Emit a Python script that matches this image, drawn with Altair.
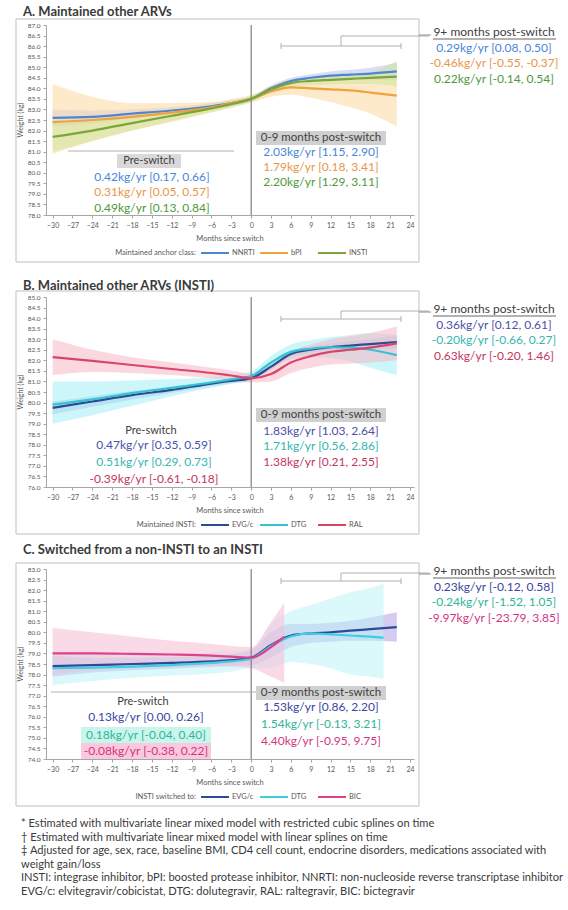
import altair as alt
import pandas as pd

FONT = "Lato"
W = 368
H = 190

X_TICKS = [-30, -27, -24, -21, -18, -15, -12, -9, -6, -3, 0, 3, 6, 9, 12, 15, 18, 21, 24]

# ---------------- Panel A: maintained other ARVs ----------------
A_TITLE = "A. Maintained other ARVs"
A_NAMES = ["NNRTI", "bPI", "INSTI"]
A_Y_TICKS = [78.0, 78.5, 79.0, 79.5, 80.0, 80.5, 81.0, 81.5, 82.0, 82.5,
             83.0, 83.5, 84.0, 84.5, 85.0, 85.5, 86.0, 86.5, 87.0]
A_MONTHS = [-30, -24, -18, -12, -6, -3, 0, 3, 6, 9, 12, 15, 18, 22]
A_NNRTI = [82.6, 82.65, 82.8, 82.95, 83.15, 83.3, 83.5, 84.0, 84.35, 84.5, 84.6, 84.65, 84.7, 84.8]
A_NNRTI_LO = [82.2, 82.35, 82.6, 82.8, 83.0, 83.15, 83.38, 83.85, 84.2, 84.33, 84.4, 84.42, 84.42, 84.4]
A_NNRTI_HI = [83.0, 82.95, 83.0, 83.1, 83.3, 83.45, 83.62, 84.15, 84.5, 84.67, 84.8, 84.88, 84.98, 85.2]
A_BPI = [82.4, 82.5, 82.65, 82.85, 83.1, 83.3, 83.5, 83.85, 84.05, 84.0, 83.95, 83.9, 83.8, 83.65]
A_BPI_LO = [80.9, 81.5, 82.0, 82.4, 82.85, 83.08, 83.32, 83.6, 83.7, 83.55, 83.35, 83.1, 82.8, 82.2]
A_BPI_HI = [84.2, 83.6, 83.3, 83.3, 83.35, 83.5, 83.68, 84.1, 84.4, 84.45, 84.5, 84.55, 84.6, 84.5]
A_INSTI = [81.7, 82.0, 82.35, 82.7, 83.05, 83.25, 83.5, 83.95, 84.25, 84.35, 84.4, 84.45, 84.5, 84.55]
A_INSTI_LO = [81.0, 81.5, 82.0, 82.45, 82.88, 83.1, 83.36, 83.8, 84.08, 84.15, 84.18, 84.2, 84.2, 84.1]
A_INSTI_HI = [82.4, 82.5, 82.7, 82.95, 83.22, 83.4, 83.64, 84.1, 84.42, 84.55, 84.62, 84.7, 84.8, 85.3]
A_PRE = ["0.42kg/yr [0.17, 0.66]", "0.31kg/yr [0.05, 0.57]", "0.49kg/yr [0.13, 0.84]"]
A_EARLY = ["2.03kg/yr [1.15, 2.90]", "1.79kg/yr [0.18, 3.41]", "2.20kg/yr [1.29, 3.11]"]
A_LATE = ["0.29kg/yr [0.08, 0.50]", "-0.46kg/yr [-0.55, -0.37]", "0.22kg/yr [-0.14, 0.54]"]

# ---------------- Panel B: maintained other ARVs (INSTI) ----------------
B_TITLE = "B. Maintained other ARVs (INSTI)"
B_NAMES = ["EVG/c", "DTG", "RAL"]
B_Y_TICKS = [76.0, 76.5, 77.0, 77.5, 78.0, 78.5, 79.0, 79.5, 80.0, 80.5,
             81.0, 81.5, 82.0, 82.5, 83.0, 83.5, 84.0, 84.5, 85.0]
B_MONTHS = [-30, -24, -18, -12, -6, -3, 0, 3, 6, 9, 12, 15, 18, 22]
B_EVG = [79.75, 80.05, 80.35, 80.6, 80.9, 81.03, 81.16, 81.7, 82.3, 82.5, 82.62, 82.7, 82.77, 82.87]
B_EVG_LO = [79.45, 79.8, 80.15, 80.45, 80.78, 80.92, 81.05, 81.55, 82.15, 82.35, 82.45, 82.5, 82.55, 82.55]
B_EVG_HI = [80.05, 80.3, 80.55, 80.75, 81.02, 81.14, 81.27, 81.85, 82.45, 82.65, 82.8, 82.9, 83.0, 83.2]
B_DTG = [79.9, 80.15, 80.45, 80.7, 80.95, 81.1, 81.26, 81.9, 82.4, 82.55, 82.62, 82.6, 82.5, 82.25]
B_DTG_LO = [79.0, 79.4, 79.85, 80.3, 80.7, 80.88, 81.05, 81.6, 82.05, 82.15, 82.1, 81.95, 81.65, 81.3]
B_DTG_HI = [81.0, 81.0, 81.05, 81.1, 81.2, 81.32, 81.47, 82.2, 82.75, 82.95, 83.1, 83.2, 83.3, 83.2]
B_RAL = [82.15, 81.97, 81.78, 81.59, 81.4, 81.28, 81.16, 81.35, 81.9, 82.2, 82.4, 82.5, 82.6, 82.8]
B_RAL_LO = [81.3, 81.45, 81.4, 81.3, 81.15, 81.05, 80.95, 81.0, 81.4, 81.65, 81.8, 81.85, 81.9, 82.0]
B_RAL_HI = [83.0, 82.5, 82.15, 81.9, 81.65, 81.52, 81.38, 81.7, 82.4, 82.75, 83.0, 83.15, 83.3, 83.6]
B_PRE = ["0.47kg/yr [0.35, 0.59]", "0.51kg/yr [0.29, 0.73]", "-0.39kg/yr [-0.61, -0.18]"]
B_EARLY = ["1.83kg/yr [1.03, 2.64]", "1.71kg/yr [0.56, 2.86]", "1.38kg/yr [0.21, 2.55]"]
B_LATE = ["0.36kg/yr [0.12, 0.61]", "-0.20kg/yr [-0.66, 0.27]", "0.63kg/yr [-0.20, 1.46]"]

# ---------------- Panel C: switched from a non-INSTI to an INSTI ----------------
C_TITLE = "C. Switched from a non-INSTI to an INSTI"
C_NAMES = ["EVG/c", "DTG", "BIC"]
C_Y_TICKS = [74.0, 74.5, 75.0, 75.5, 76.0, 76.5, 77.0, 77.5, 78.0, 78.5,
             79.0, 79.5, 80.0, 80.5, 81.0, 81.5, 82.0, 82.5, 83.0]
C_EVG_MONTHS = [-30, -24, -18, -12, -6, -3, 0, 3, 6, 9, 12, 15, 18, 22]
C_EVG = [78.4, 78.45, 78.5, 78.55, 78.62, 78.68, 78.8, 79.4, 79.85, 79.95, 80.0, 80.08, 80.15, 80.25]
C_EVG_LO = [77.9, 78.1, 78.2, 78.28, 78.36, 78.4, 78.45, 78.8, 79.3, 79.5, 79.55, 79.6, 79.6, 79.55]
C_EVG_HI = [78.9, 78.8, 78.8, 78.82, 78.88, 78.96, 79.15, 80.0, 80.4, 80.4, 80.45, 80.55, 80.7, 80.95]
C_DTG_MONTHS = [-30, -24, -18, -12, -6, -3, 0, 3, 6, 9, 12, 15, 18, 20]
C_DTG = [78.3, 78.33, 78.38, 78.45, 78.55, 78.62, 78.75, 79.35, 79.8, 79.95, 79.9, 79.85, 79.8, 79.75]
C_DTG_LO = [77.5, 77.7, 77.85, 77.95, 78.05, 78.15, 78.3, 78.3, 78.6, 78.5, 78.3, 78.0, 77.9, 77.8]
C_DTG_HI = [79.1, 78.95, 78.9, 78.95, 79.05, 79.1, 79.2, 80.4, 81.0, 81.3, 81.6, 81.9, 82.1, 82.3]
C_BIC_MONTHS = [-30, -24, -18, -12, -6, -3, 0, 3, 5]
C_BIC = [79.0, 79.0, 78.98, 78.95, 78.9, 78.85, 78.8, 79.3, 79.8]
C_BIC_LO = [78.0, 78.2, 78.3, 78.35, 78.4, 78.38, 78.3, 77.9, 77.6]
C_BIC_HI = [80.2, 80.0, 79.8, 79.6, 79.45, 79.35, 79.3, 80.5, 81.4]
C_PRE = ["0.13kg/yr [0.00, 0.26]", "0.18kg/yr [-0.04, 0.40]", "-0.08kg/yr [-0.38, 0.22]"]
C_EARLY = ["1.53kg/yr [0.86, 2.20]", "1.54kg/yr [-0.13, 3.21]", "4.40kg/yr [-0.95, 9.75]"]
C_LATE = ["0.23kg/yr [-0.12, 0.58]", "-0.24kg/yr [-1.52, 1.05]", "-9.97kg/yr [-23.79, 3.85]"]

FOOTNOTES = [
    "* Estimated with multivariate linear mixed model with restricted cubic splines on time",
    "\u2020 Estimated with multivariate linear mixed model with linear splines on time",
    "\u2021 Adjusted for age, sex, race, baseline BMI, CD4 cell count, endocrine disorders, medications associated with",
    "weight gain/loss",
    "INSTI: integrase inhibitor, bPI: boosted protease inhibitor, NNRTI: non-nucleoside reverse transcriptase inhibitor",
    "EVG/c: elvitegravir/cobicistat, DTG: dolutegravir, RAL: raltegravir, BIC: bictegravir",
]

ONE = pd.DataFrame({"k": [0]})
GRAY = "#a6a6a6"
DARK = "#404040"
BOX_FONT = 12


def label(txt, x, y, size=BOX_FONT, color=DARK, align="center", weight="normal",
          baseline="middle", angle=None, limit=None):
    kw = dict(text=txt, fontSize=size, color=color, align=align, baseline=baseline,
              font=FONT, fontWeight=weight)
    if angle is not None:
        kw["angle"] = angle
    if limit is not None:
        kw["limit"] = limit
        kw["ellipsis"] = ""
    return alt.Chart(ONE).mark_text(**kw).encode(x=alt.value(x), y=alt.value(y))


def seg(x1, y1, x2, y2, color=GRAY, width=1.0):
    return alt.Chart(ONE).mark_rule(color=color, strokeWidth=width).encode(
        x=alt.value(x1), x2=alt.value(x2), y=alt.value(y1), y2=alt.value(y2))


def box(x1, y1, x2, y2, fill=None, stroke=None):
    kw = {}
    if fill is not None:
        kw["fill"] = fill
    else:
        kw["fillOpacity"] = 0
    if stroke is not None:
        kw["stroke"] = stroke
        kw["strokeWidth"] = 1
    return alt.Chart(ONE).mark_rect(**kw).encode(
        x=alt.value(x1), x2=alt.value(x2), y=alt.value(y1), y2=alt.value(y2))


def build_frame(names, months, means, los, his):
    rows = []
    for name, ms, ws, ls, hs in zip(names, months, means, los, his):
        for m, w, lo, hi in zip(ms, ws, ls, hs):
            rows.append({"grp": name, "month": m, "wt": w, "lo": lo, "hi": hi})
    return pd.DataFrame(rows)


def panel(p):
    df = build_frame(p["names"], p["months"], p["means"], p["los"], p["his"])
    xs = alt.Scale(domain=[-31, 24.6], nice=False, zero=False)
    ys = alt.Scale(domain=[p["yticks"][0], p["yticks"][-1]], nice=False, zero=False)
    xaxis = alt.Axis(values=X_TICKS, format="d", labelFontSize=7, labelColor="#595959",
                     labelFont=FONT, tickSize=3, tickColor=GRAY, domainColor=GRAY,
                     grid=False, title=None, labelPadding=3, labelAngle=0)
    yaxis = alt.Axis(values=p["yticks"], format=".1f", labelFontSize=6.5, labelColor="#595959",
                     labelFont=FONT, tickSize=3, tickColor=GRAY, domainColor=GRAY,
                     grid=False, title=None, labelPadding=3)

    bands = alt.Chart(df).mark_area(interpolate="monotone", opacity=0.55).encode(
        x=alt.X("month:Q", scale=xs, axis=xaxis),
        y=alt.Y("lo:Q", scale=ys, axis=yaxis),
        y2="hi:Q",
        fill=alt.Fill("grp:N", scale=alt.Scale(domain=p["names"], range=p["bands"]), legend=None),
    )
    lines = alt.Chart(df).mark_line(interpolate="monotone", strokeWidth=2.2).encode(
        x=alt.X("month:Q", scale=xs, axis=xaxis),
        y=alt.Y("wt:Q", scale=ys, axis=yaxis),
        stroke=alt.Stroke("grp:N", scale=alt.Scale(domain=p["names"], range=p["lines"]), legend=None),
    )
    switch = alt.Chart(pd.DataFrame({"month": [0]})).mark_rule(
        color="#7f7f7f", strokeWidth=1.2).encode(x=alt.X("month:Q", scale=xs, axis=xaxis))

    layers = [bands, switch, lines]
    tc = p["text_colors"]

    # frame around the panel and its title
    layers.append(box(-30, -6, W + 5, H + 47, stroke="#bfbfbf"))
    layers.append(label(p["title"], -23, p["title_y"], size=13, weight="bold",
                        align="left", color="#3a3a3a"))

    # axis titles
    layers.append(label("Weight (kg)", -25, H / 2, size=7, angle=270, color="#595959"))
    layers.append(label("Months since switch", W / 2, H + 24, size=7.5, color="#595959"))

    # bottom legend
    ly = H + 38
    layers.append(label(p["legend_prefix"], 150, ly, size=7.5, align="right", color="#595959"))
    for i, (xs0, name) in enumerate(zip([155, 214, 272], p["names"])):
        layers.append(seg(xs0, ly, xs0 + 28, ly, color=p["lines"][i], width=2))
        layers.append(label(name, xs0 + 31, ly, size=7.5, align="left", color="#595959"))

    # pre-switch estimates
    if p.get("pre_bracket") is not None:
        bx1, bx2, by = p["pre_bracket"]
        layers.append(seg(bx1, by, bx2, by, color="#b0b0b0"))
    hx, hy = p["pre_head"]
    if p.get("pre_head_bg"):
        layers.append(box(hx - 32, hy - 7, hx + 32, hy + 7, fill="#d9d9d9"))
    layers.append(label("Pre-switch", hx, hy, size=11, color=DARK))
    for i, (txt, yy) in enumerate(zip(p["pre"], p["pre_y"])):
        if p.get("pre_highlight") and p["pre_highlight"][i]:
            layers.append(box(hx - 62, yy - 8, hx + 68, yy + 8, fill=p["pre_highlight"][i]))
        layers.append(label(txt, hx + 3, yy, color=tc[i]))

    # 0-9 months post-switch estimates
    ex, ey = p["early_head"]
    layers.append(box(ex - 65, ey - 7, ex + 65, ey + 7, fill="#d0d0d0"))
    layers.append(label("0-9 months post-switch", ex, ey, size=11.5, color=DARK))
    for i, (txt, yy) in enumerate(zip(p["early"], p["early_y"])):
        layers.append(label(txt, ex, yy, color=tc[i]))

    # 9+ months post-switch bracket and estimates beside the panel
    ky, cy = p["late_bracket_y"], p["connector_y"]
    layers.append(seg(235, ky, 355, ky, color="#b0b0b0"))
    layers.append(seg(235, ky - 3, 235, ky + 3, color="#b0b0b0"))
    layers.append(seg(355, ky - 3, 355, ky + 3, color="#b0b0b0"))
    layers.append(seg(295, cy, 383, cy, color="#b0b0b0"))
    layers.append(seg(295, cy, 295, ky, color="#b0b0b0"))
    ry = p["late_y"]
    layers.append(seg(373, ry + 3, 385, ry + 3, color="#8c8c8c"))
    layers.append(label("9+ months post-switch", 448, ry, size=12, color=DARK))
    layers.append(seg(387, ry + 7, 510, ry + 7, color=DARK, width=0.8))
    for i, txt in enumerate(p["late"]):
        layers.append(label(txt, 448, ry + 15.5 * (i + 1), color=tc[i]))

    for extra in p.get("extra", []):
        layers.append(extra)

    return alt.layer(*layers).properties(width=W, height=H)


panel_a = panel(dict(
    title=A_TITLE, title_y=-13, names=A_NAMES, yticks=A_Y_TICKS,
    months=[A_MONTHS, A_MONTHS, A_MONTHS],
    means=[A_NNRTI, A_BPI, A_INSTI], los=[A_NNRTI_LO, A_BPI_LO, A_INSTI_LO],
    his=[A_NNRTI_HI, A_BPI_HI, A_INSTI_HI],
    lines=["#4f86cf", "#f0a23c", "#7aa63a"], bands=["#b9c3ee", "#fcd9a0", "#cfe39a"],
    text_colors=["#4a86d8", "#e8964a", "#4e9a3c"],
    legend_prefix="Maintained anchor class:",
    pre_bracket=(22, 188, 126), pre_head=(103, 136), pre_head_bg=True,
    pre=A_PRE, pre_y=[152, 167, 183],
    early_head=(275, 113), early=A_EARLY, early_y=[127, 142, 157],
    late_bracket_y=21, connector_y=11, late_y=7, late=A_LATE,
))

panel_b = panel(dict(
    title=B_TITLE, title_y=-11, names=B_NAMES, yticks=B_Y_TICKS,
    months=[B_MONTHS, B_MONTHS, B_MONTHS],
    means=[B_EVG, B_DTG, B_RAL], los=[B_EVG_LO, B_DTG_LO, B_RAL_LO],
    his=[B_EVG_HI, B_DTG_HI, B_RAL_HI],
    lines=["#2f4a8f", "#33c3d3", "#d9456a"], bands=["#a9b3e3", "#a3eef4", "#f7b6c6"],
    text_colors=["#4b4fa8", "#35b5b0", "#c2365c"],
    legend_prefix="Maintained INSTI:",
    pre_bracket=None, pre_head=(105, 134), pre_head_bg=False,
    pre=B_PRE, pre_y=[148, 165, 182],
    early_head=(275, 118), early=B_EARLY, early_y=[134, 149, 165],
    late_bracket_y=22, connector_y=14, late_y=12, late=B_LATE,
))

panel_c = panel(dict(
    title=C_TITLE, title_y=-19, names=C_NAMES, yticks=C_Y_TICKS,
    months=[C_EVG_MONTHS, C_DTG_MONTHS, C_BIC_MONTHS],
    means=[C_EVG, C_DTG, C_BIC], los=[C_EVG_LO, C_DTG_LO, C_BIC_LO],
    his=[C_EVG_HI, C_DTG_HI, C_BIC_HI],
    lines=["#2d4a9a", "#3ccfe0", "#e0408a"], bands=["#b3a0e6", "#bdf2f6", "#f8bcd6"],
    text_colors=["#3b45a0", "#2eb59a", "#d4347f"],
    legend_prefix="INSTI switched to:",
    pre_bracket=(5, 212, 123), pre_head=(97, 133), pre_head_bg=False,
    pre=C_PRE, pre_y=[148, 166, 182], pre_highlight=[None, "#c9f5ec", "#f9c9de"],
    early_head=(275, 124), early=C_EARLY, early_y=[138, 155, 172],
    late_bracket_y=12, connector_y=4, late_y=2, late=C_LATE,
    extra=[label(t, -25, 255 + 13.6 * i, size=11.1, align="left", color="#3a3a3a", limit=548)
           for i, t in enumerate(FOOTNOTES)],
))

chart = alt.vconcat(panel_a, panel_b, panel_c, spacing=82, bounds="flush").resolve_scale(
    fill="independent", stroke="independent", y="independent"
).properties(
    padding={"left": 15, "top": 6, "right": 0, "bottom": 0},
    autosize=alt.AutoSizeParams(type="pad"),
    background="white",
).configure_view(stroke=None).configure_text(font=FONT)

chart.save("out.html", embed_options={"renderer": "svg", "actions": False})
